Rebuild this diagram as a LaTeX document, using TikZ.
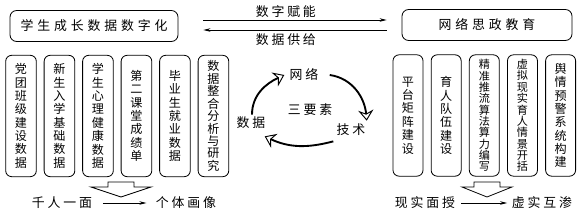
\documentclass[tikz,border=0pt]{standalone}
\usepackage{fontspec}
\setmainfont{Noto Sans CJK SC}
\newfontfamily\cjkwide[LetterSpace=30]{Noto Sans CJK SC}
\newfontfamily\cjkmid[LetterSpace=22]{Noto Sans CJK SC}
\usepackage{tikz}
\usetikzlibrary{
  arrows.meta,
  positioning,
  calc
}
\newcommand{\tightlines}{\lineskiplimit=-10pt\relax}
\tikzset{
  % Title box: rounded, wide
  headbox/.style={
    rectangle, rounded corners=2mm,
    draw=black, line width=0.7pt,
    minimum width=#1, minimum height=9.3mm,
    inner sep=0pt, font=\cjkwide\fontsize{11}{12}\selectfont
  },
  % Tall box with one character per line
  colbox/.style={
    rectangle, rounded corners=1.8mm,
    draw=black, line width=0.7pt,
    minimum width=#1, minimum height=36.4mm,
    inner sep=0pt, align=center,
    font=\fontsize{10.3}{11.4}\selectfont\tightlines
  },
  % Plain text label
  lbl/.style={inner sep=1pt, font=\cjkmid\fontsize{11}{12}\selectfont},
  % Thin arrow
  arr/.style={
    -{Stealth[length=6pt,width=3pt]},
    line width=0.6pt, color=black
  },
  % Thick cycle arrow with open head
  cyc/.style={
    -{Stealth[open,length=9pt,width=13pt,inset=3pt,line width=0.8pt]},
    line width=1.6pt, color=black
  },
  % Hollow block arrow
  hollow/.style={draw=black, line width=0.7pt, fill=white}
}

\begin{document}
\begin{tikzpicture}[x=0.3mm, y=0.3mm]
  \useasboundingbox (0,0) rectangle (579,-216);

  % Two title boxes
  \node[headbox=50.4mm] (dsz)  at (94,-26)  {学生成长数据数字化};
  \node[headbox=51mm]   (wlsz) at (487,-25) {网络思政教育};

  % Exchange between them
  \draw[arr] ($(dsz.east)+(25,6)$)   -- node[lbl, pos=0.45, above=1pt] (fn) {数字赋能} ($(wlsz.west)+(-15,5)$);
  \draw[arr] ($(wlsz.west)+(-15,-5)$) -- node[lbl, pos=0.55, below=2pt] (gj) {数据供给} ($(dsz.east)+(25,-4)$);

  % Left column of data boxes
  \node[colbox=9.2mm] (b1) at (21,-116) {党\\团\\班\\级\\建\\设\\数\\据};
  \node[colbox=9.2mm, right=2.1mm of b1] (b2) {新\\生\\入\\学\\基\\础\\数\\据};
  \node[colbox=9.2mm, right=2.1mm of b2] (b3) {学\\生\\心\\理\\健\\康\\数\\据};
  \node[colbox=9.2mm, right=2.1mm of b3] (b4) {第\\二\\课\\堂\\成\\绩\\单};
  \node[colbox=9.2mm, right=2.1mm of b4] (b5) {毕\\业\\生\\就\\业\\数\\据};
  \node[colbox=9.2mm, right=2.1mm of b5, font=\fontsize{10.3}{10.6}\selectfont\tightlines] (b6) {数\\据\\整\\合\\分\\析\\与\\研\\究};

  % Right column of education boxes
  \node[colbox=9mm] (r1) at (408,-115.5) {平\\台\\矩\\阵\\建\\设};
  \node[colbox=9mm, right=2.2mm of r1] (r2) {育\\人\\队\\伍\\建\\设};
  \node[colbox=9mm, right=2.2mm of r2, font=\fontsize{9.5}{9.7}\selectfont\tightlines] (r3) {精\\准\\推\\流\\算\\法\\算\\力\\编\\写};
  \node[colbox=9mm, right=2.2mm of r3, font=\fontsize{9.5}{9.7}\selectfont\tightlines] (r4) {虚\\拟\\现\\实\\育\\人\\情\\景\\开\\括};
  \node[colbox=9mm, right=2.2mm of r4] (r5) {舆\\情\\预\\警\\系\\统\\构\\建};

  % Three elements cycle
  \node[lbl] (sys)  at (310,-110) {三要素};
  \node[lbl] (net)  at (304,-75)  {网络};
  \node[lbl] (tech) at (351,-130) {技术};
  \node[lbl] (data) at (251,-123) {数据};

  \draw[cyc] ($(data.north)+(1,1)$) to[out=90, in=205] ($(net.west)+(-4,0)$);
  \draw[cyc] ($(net.east)+(10,0)$) to[out=-8, in=95] ($(tech.north east)+(0,2)$);
  \draw[cyc] ($(tech.south west)+(-2,-4)$) to[out=195, in=-25] ($(data.south east)+(-2,-6)$);

  % Hollow block arrows
  \draw[hollow] (108,-182) -- (134,-182) -- (134,-187) -- (151,-187)
    -- (121,-197) -- (91,-187) -- (108,-187) -- cycle;
  \draw[hollow] (474,-182) -- (500,-182) -- (500,-187) -- (512,-187)
    -- (487,-197) -- (462,-187) -- (474,-187) -- cycle;

  % Bottom transitions
  \node[lbl] (qian) at (62,-203)  {千人一面};
  \node[lbl] (geti) at (186,-203) {个体画像};
  \draw[arr, shorten <=8pt, shorten >=7pt] (qian.east) -- (geti.west);
  \node[lbl] (xsms) at (425,-203) {现实面授};
  \node[lbl] (xshs) at (542,-203) {虚实互渗};
  \draw[arr, shorten <=4pt, shorten >=3pt] (xsms.east) -- (xshs.west);
\end{tikzpicture}
\end{document}
